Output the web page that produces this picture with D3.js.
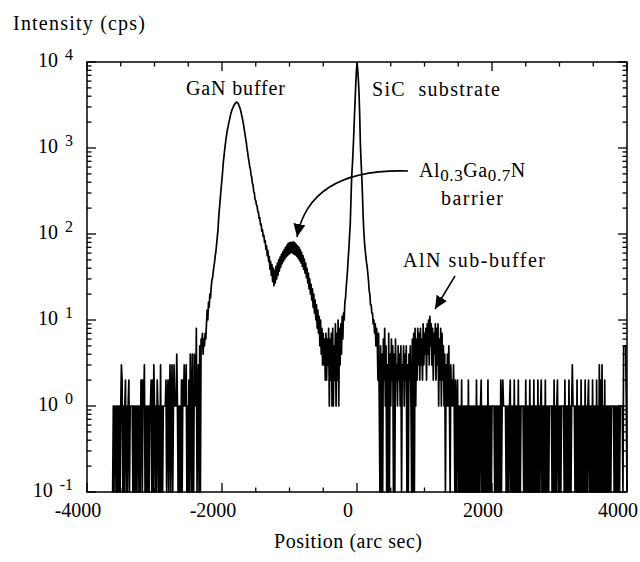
<!DOCTYPE html>
<html>
<head>
<meta charset="utf-8">
<script src="https://cdn.jsdelivr.net/npm/d3@7"></script>
<style>
body { margin: 0; background: #fff; }
text { font-family: "Palatino Linotype", "Book Antiqua", Palatino, "Liberation Serif", serif; fill: #000; }
</style>
</head>
<body>
<div id="chart"></div>
<script>

// rocking curve, counts per 10 arc sec step (0 counts drawn on the axis floor)
var stepSize = 10;

var leftStart = -3620;  // noise floor left of the GaN peak
var leftFloor = [
	0,1,0,1,1,0,1,0,1,0,
	1,0,1,3,2,0,1,0,1,2,
	0,1,0,1,2,0,1,1,1,1,
	0,1,0,1,0,1,0,1,1,0,
	1,0,2,2,0,2,1,3,0,1,
	0,1,0,1,0,1,1,2,0,2,
	0,3,1,0,1,0,2,1,0,1,
	0,3,0,1,0,1,1,1,1,2,
	0,1,2,0,1,3,0,1,3,0,
	1,3,1,1,1,4,1,0,1,0,
	1,0,2,0,2,1,3,1,1,3,
	0,1,0,2,0,4,1,0,4,0,
	0,4,1,1,8,0,1,3,0,5,0,6
];

var peakStart = -2300;  // GaN buffer, AlGaN barrier and SiC substrate
var peakCounts = [
	5,7,4,6,5,7,6,9,13,10,
	16,14,20,18,24,29,31,36,42,47,
	56,63,76,92,110,150,190,235,290,360,
	440,540,690,810,960,1110,1290,1450,1630,1760,
	1960,2110,2290,2490,2640,2810,2910,3060,3140,3260,
	3320,3390,3410,3360,3310,3140,3010,2840,2660,2440,
	2260,2040,1860,1640,1470,1290,1160,990,890,770,
	700,610,570,490,460,390,370,310,300,250,
	246,218,212,182,180,152,155,128,131,108,
	112,94,97,80,84,66,73,56,64,48,
	55,39,48,33,44,28,40,25,38,27,
	42,30,46,33,50,37,54,41,58,45,
	62,48,66,51,70,54,74,56,78,58,
	79,60,80,61,80,60,81,58,79,57,
	76,55,73,52,70,49,66,46,61,42,
	56,39,51,35,46,31,40,27,35,23,
	30,20,26,17,23,14,20,12,17,10,
	15,8,13,7,11,5,10,4,8,3,
	7,3,6,2,7,2,6,3,8,1,
	6,2,7,1,8,1,5,2,9,1,
	7,2,10,1,8,3,9,4,11,6,
	12,10,16,18,24,30,38,52,68,96,
	130,240,440,600,860,1300,2100,3300,5100,7600,
	9800,8300,6300,4300,2400,1100,710,480,300,170,
	112,82,66,56,47,42,35,29,22,20,
	15,15,12,12,9,10,7,9,5,8
];

var rightStart = 300;  // AlN sub-buffer and noise floor
var rightFloor = [
	6,2,7,1,0,5,0,4,0,6,
	2,8,1,5,0,3,0,7,0,4,
	1,6,2,5,0,4,0,6,2,3,
	1,5,2,4,1,5,0,3,2,5,
	1,4,2,5,0,3,0,4,2,5,
	1,0,6,0,7,0,8,1,6,2,
	8,3,7,2,8,3,6,2,9,3,
	7,4,8,2,9,4,10,3,11,5,
	9,3,8,2,7,4,9,2,8,3,
	9,1,6,2,8,1,7,2,5,1,
	4,0,3,1,4,1,5,1,0,3,
	1,2,1,3,1,0,2,0,1,2,
	0,1,0,1,0,2,0,1,0,1,
	0,1,0,1,0,2,0,1,0,1,
	0,1,0,1,0,1,0,2,0,1,
	0,1,0,1,2,0,1,0,1,0,
	1,0,1,0,2,0,1,0,1,0,
	1,1,1,1,0,1,0,1,0,1,
	0,1,0,2,0,1,2,1,1,1,
	1,0,1,0,1,0,1,2,0,1,
	0,1,0,2,0,1,0,1,0,2,
	0,1,0,1,1,1,1,0,1,0,
	2,0,1,0,1,0,2,0,1,0,
	1,0,2,0,1,0,1,0,2,0,
	1,0,1,2,0,1,0,1,0,2,
	0,1,0,1,0,1,1,1,1,0,
	1,0,2,0,1,0,1,2,0,1,
	0,1,0,1,1,1,1,0,2,0,
	1,0,1,0,2,0,1,0,1,3,
	1,1,1,0,1,0,2,0,1,0,
	1,0,2,0,1,0,1,0,2,0,
	1,0,1,2,0,1,0,1,0,2,
	0,1,0,1,0,2,0,1,0,3,
	0,2,0,3,0,1,0,2,0,1,
	0,1,0,1,0,1,0,1,1,1,
	1,0,1,0,1,0,1,0,1,0,
	1,1,1,1,0,5,5,5,5,1,0
];

var xMajorTicks = [-4000, -2000, 0, 2000, 4000];
var xMinorTicks = d3.range(-4000, 4001, 500);
var yDecades = [-1, 0, 1, 2, 3, 4];

var width = 640,
height = 562;

var plot = {left: 87, right: 627, top: 62, bottom: 492};

var svg = d3.select("#chart").append("svg")
.attr("width", width)
.attr("height", height);

var x = d3.scaleLinear().domain([-4000, 4000]).range([plot.left, plot.right]);
var y = d3.scaleLog().domain([0.1, 10000]).range([plot.bottom, plot.top]);

// build points from the three segments
function segment(start, counts) {
	return counts.map(function(c, i) {
		return {pos: start + i * stepSize, cps: c};
	});
}

var data = segment(leftStart, leftFloor)
.concat(segment(peakStart, peakCounts))
.concat(segment(rightStart, rightFloor));

var line = d3.line()
.x(function(d) { return x(d.pos); })
.y(function(d) { return y(Math.max(d.cps, 0.1)); });

svg.append("path")
.datum(data)
.attr("d", line)
.attr("fill", "none")
.attr("stroke", "#000")
.attr("stroke-width", 1.7)
.attr("stroke-linejoin", "round");

// frame
svg.append("rect")
.attr("x", plot.left)
.attr("y", plot.top)
.attr("width", plot.right - plot.left)
.attr("height", plot.bottom - plot.top)
.attr("fill", "none")
.attr("stroke", "#000")
.attr("stroke-width", 1.5);

// x ticks, top and bottom, pointing in
var ticks = svg.append("g").attr("stroke", "#000").attr("stroke-width", 1.3);

xMinorTicks.forEach(function(t) {
	var len = xMajorTicks.indexOf(t) >= 0 ? 9 : 4.5;
	ticks.append("line").attr("x1", x(t)).attr("x2", x(t))
	.attr("y1", plot.bottom).attr("y2", plot.bottom - len);
	ticks.append("line").attr("x1", x(t)).attr("x2", x(t))
	.attr("y1", plot.top).attr("y2", plot.top + len);
});

// log ticks left and right
var yTickVals = [];
yDecades.forEach(function(d) {
	yTickVals.push({v: Math.pow(10, d), major: true});
	if (d < 4) {
		for (var m = 2; m <= 9; m++) yTickVals.push({v: m * Math.pow(10, d), major: false});
	}
});

yTickVals.forEach(function(t) {
	var len = t.major ? 9 : 4.5;
	ticks.append("line").attr("x1", plot.left).attr("x2", plot.left + len)
	.attr("y1", y(t.v)).attr("y2", y(t.v));
	ticks.append("line").attr("x1", plot.right).attr("x2", plot.right - len)
	.attr("y1", y(t.v)).attr("y2", y(t.v));
});

// tick labels
svg.selectAll(".xlab")
.data(xMajorTicks)
.enter().append("text")
.attr("class", "xlab")
.attr("x", function(d) { return x(d) - 9; })
.attr("y", 517)
.attr("text-anchor", "middle")
.style("font-size", "20px")
.text(function(d) { return d; });

var yLab = svg.selectAll(".ylab")
.data(yDecades)
.enter().append("text")
.attr("class", "ylab")
.attr("x", 73)
.attr("y", function(d) { return y(Math.pow(10, d)) + 4.5; })
.attr("text-anchor", "end")
.style("font-size", "20px");

yLab.append("tspan").text("10");
yLab.append("tspan")
.attr("dx", 7)
.attr("dy", -7)
.style("font-size", "16px")
.text(function(d) { return d; });

// axis titles
function label(txt, x0, y0, w, anchor) {
	return svg.append("text")
	.attr("x", x0)
	.attr("y", y0)
	.attr("text-anchor", anchor || "start")
	.attr("textLength", w)
	.attr("lengthAdjust", "spacing")
	.style("font-size", "20px")
	.text(txt);
}

label("Intensity (cps)", 13, 30, 132);
label("Position (arc sec)", 348, 548, 148, "middle");

// annotations
label("GaN buffer", 186, 95, 99);
label("SiC\u00a0 substrate", 372, 96, 128);
label("barrier", 472, 205, 62, "middle");
label("AlN sub-buffer", 403, 267, 142);

var alGaN = svg.append("text").attr("x", 419).attr("y", 177)
.style("font-size", "20px").style("letter-spacing", "0.6px");
alGaN.append("tspan").text("Al");
alGaN.append("tspan").attr("dy", 4).style("font-size", "17px").text("0.3");
alGaN.append("tspan").attr("dy", -4).text("Ga");
alGaN.append("tspan").attr("dy", 4).style("font-size", "17px").text("0.7");
alGaN.append("tspan").attr("dy", -4).text("N");

// arrowheads
svg.append("defs").append("marker")
.attr("id", "head")
.attr("markerUnits", "userSpaceOnUse")
.attr("markerWidth", 14)
.attr("markerHeight", 12)
.attr("refX", 13)
.attr("refY", 6)
.attr("orient", "auto")
.append("path")
.attr("d", "M0,0 L13,6 L0,12 Z")
.attr("fill", "#000");

svg.append("path")
.attr("d", "M408,171 Q310,168 297,237")
.attr("fill", "none")
.attr("stroke", "#000")
.attr("stroke-width", 1.5)
.attr("marker-end", "url(#head)");

svg.append("path")
.attr("d", "M455,276 L435,309")
.attr("fill", "none")
.attr("stroke", "#000")
.attr("stroke-width", 1.5)
.attr("marker-end", "url(#head)");

</script>
</body>
</html>
